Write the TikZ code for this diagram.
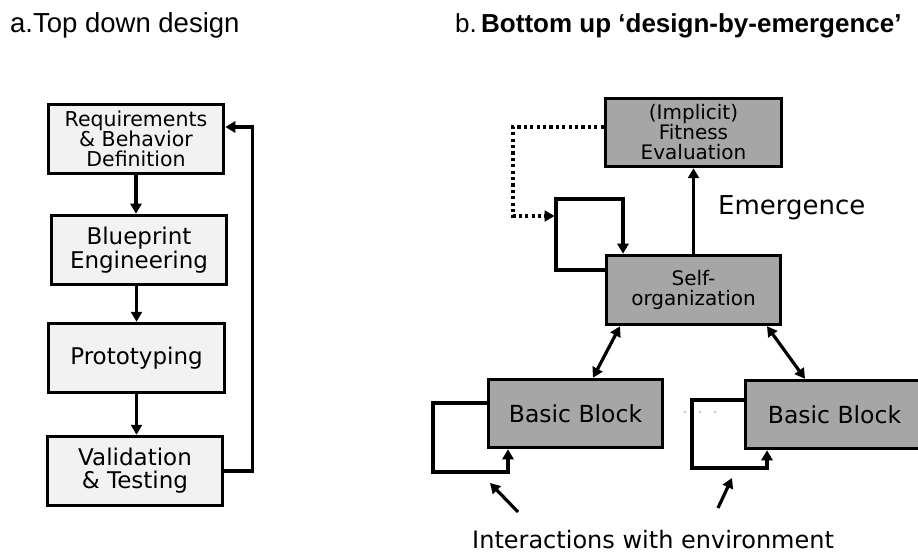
\documentclass[tikz,border=0pt]{standalone}
\usepackage{fontspec}
\setmainfont{DejaVu Sans}
\newfontfamily\titlefont{Liberation Sans}
\usetikzlibrary{arrows.meta}
\definecolor{lightbox}{HTML}{F2F2F2}
\definecolor{darkbox}{HTML}{A6A6A6}
\tikzset{
  stagebox/.style={draw=black, line width=3.5pt, fill=lightbox, inner sep=0pt,
    align=center, minimum width=175pt, minimum height=69pt},
  emergebox/.style={draw=black, line width=3.5pt, fill=darkbox, inner sep=0pt,
    align=center, minimum width=175pt, minimum height=69pt},
  conn/.style={line width=3.2pt, -{Triangle[length=10pt,width=11pt]}},
  biconn/.style={line width=3.2pt, {Triangle[length=10pt,width=11pt]}-{Triangle[length=10pt,width=11pt]}},
  dotconn/.style={line width=3.2pt, dash pattern=on 3.2pt off 3.2pt,
    -{Triangle[length=10pt,width=11pt]}},
  plaintext/.style={inner sep=0pt}
}
\begin{document}
\begin{tikzpicture}[x=1pt,y=-1pt]
\useasboundingbox (0,0) rectangle (918,553);
\clip (0,0) rectangle (918,553);
\fill[white] (0,0) rectangle (918,553);

% headings
\node[plaintext, anchor=base west] (titleA) at (10,33)
  {\titlefont\fontsize{27.5}{29}\selectfont a.Top down design};
\node[plaintext, anchor=base west] (titleB) at (455,33)
  {\titlefont\fontsize{26}{28}\selectfont b.\,\textbf{Bottom up ‘design-by-emergence’}};

% top down chain
\node[stagebox, font=\fontsize{20.5}{20}\selectfont] (req) at (136,139)
  {Requirements\\\& Behavior\\Definition};
\node[stagebox, font=\fontsize{23}{24}\selectfont] (blue) at (139,250)
  {Blueprint\\Engineering};
\node[stagebox, minimum width=176pt, font=\fontsize{23}{24}\selectfont] (proto) at (136.5,358)
  {Prototyping};
\node[stagebox, font=\fontsize{23}{23}\selectfont] (valid) at (135,471)
  {Validation\\\& Testing};

\draw[conn] (req.south) -- (req.south |- blue.north);
\draw[conn] (blue.south -| proto.north) -- (proto.north);
\draw[conn] (proto.south) -- (proto.south |- valid.north);
\draw[conn] (valid.east) -- ++(28,0) |- ([yshift=12pt]req.east);

% bottom up structure
\node[emergebox, minimum width=176pt, minimum height=68pt, font=\fontsize{20}{20}\selectfont] (fit) at (693.5,132.5)
  {(Implicit)\\Fitness\\Evaluation};
\node[emergebox, minimum width=174pt, font=\fontsize{20}{20}\selectfont] (self) at (693.5,290)
  {Self-\\organization};
\node[emergebox, minimum width=174pt, minimum height=68pt, font=\fontsize{23.5}{24}\selectfont] (bl) at (575.5,413.5)
  {Basic Block};
\node[emergebox, minimum width=178pt, minimum height=68pt, font=\fontsize{23.5}{24}\selectfont] (br) at (834.5,414.5)
  {Basic Block};

% emergence
\draw[conn] (self.north) -- (fit.south);
\node[plaintext, anchor=base west, font=\fontsize{26}{28}\selectfont] (emerg) at (718,215) {Emergence};

% self-organization feedback loop and fitness feedback
\coordinate (selfloop) at (556,199);
\draw[conn] ([yshift=20pt]self.west) -| (selfloop) -| ([xshift=-70.5pt]self.north);
\coordinate (fitcorner) at (513,216);
\coordinate (fitend) at (554.5,216);
\draw[dotconn] ([yshift=5.5pt]fit.west) -| (fitcorner) -- (fitend);

% links between self-organization and the blocks
\draw[biconn] ([xshift=-73.5pt]self.south) -- ([xshift=17.5pt]bl.north);
\draw[biconn] ([xshift=73.5pt]self.south) -- ([xshift=-29.5pt]br.north);

% block self loops
\coordinate (blloop) at (433,472);
\draw[conn] ([yshift=10.5pt]bl.west) -| (blloop) -| ([xshift=-67.5pt]bl.south);
\coordinate (brloop) at (692,468);
\draw[conn] ([yshift=14.5pt]br.west) -| (brloop) -| ([xshift=-67.5pt]br.south);

% faint ellipsis between the blocks
\foreach \dx in {685,700,715} \fill[black!18] (\dx,412) circle (1.6pt);

% environment
\node[plaintext, anchor=base west, font=\fontsize{24}{26}\selectfont] (env) at (472,548)
  {Interactions with environment};
\coordinate (envA0) at (518,512);
\coordinate (envA1) at (490,483);
\coordinate (envB0) at (718,508);
\coordinate (envB1) at (732,478);
\draw[conn] (envA0) -- (envA1);
\draw[conn] (envB0) -- (envB1);
\end{tikzpicture}
\end{document}
